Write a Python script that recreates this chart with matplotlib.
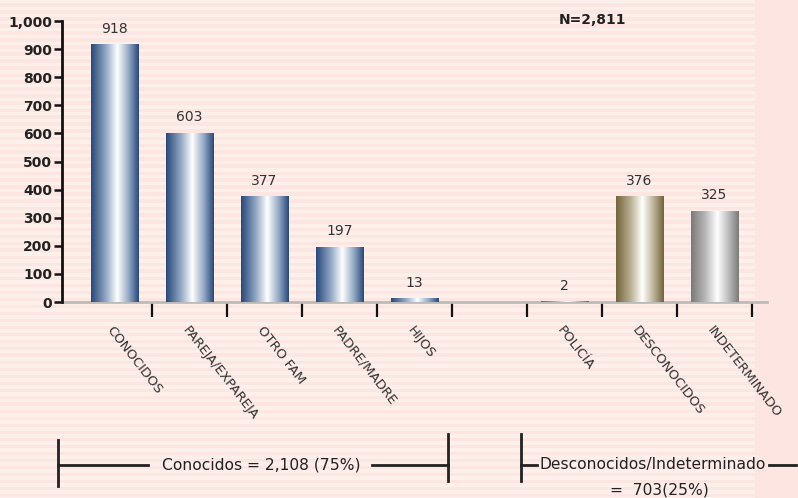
import matplotlib.pyplot as plt
import matplotlib.patches as mpatches
from matplotlib.colors import LinearSegmentedColormap
from matplotlib.ticker import FuncFormatter
import numpy as np

# datos
categorias = ['CONOCIDOS', 'PAREJA/EXPAREJA', 'OTRO FAM', 'PADRE/MADRE', 'HIJOS',
              '', 'POLICÍA', 'DESCONOCIDOS', 'INDETERMINADO']
valores = [918, 603, 377, 197, 13, 0, 2, 376, 325]
grupo = ['azul', 'azul', 'azul', 'azul', 'azul', 'azul', 'oliva', 'oliva', 'gris']
total_txt = 'N=2,811'
conocidos_txt = 'Conocidos = 2,108 (75%)'
descon_txt = 'Desconocidos/Indeterminado'
descon_txt2 = '=  703(25%)'

W, H = 798, 498
fig = plt.figure(figsize=(W / 100, H / 100), dpi=100)
fig.patch.set_facecolor('#fde6e1')

fnt = ['Liberation Sans Narrow', 'DejaVu Sans']

def px(x, y):
    return x / W, 1 - y / H

# fondo rayado
for yy in range(0, H, 7):
    fig.patches.append(mpatches.Rectangle(px(0, yy + 3.5), 755 / W, 3.5 / H,
                                          transform=fig.transFigure,
                                          facecolor='#fdefea', edgecolor='none', zorder=-10))

ax = fig.add_axes([62 / W, (H - 302) / H, (767 - 62) / W, (302 - 21) / H])
ax.set_facecolor('none')

cmaps = {
    'azul': LinearSegmentedColormap.from_list('azul', [(0, '#284878'), (0.3, '#8ea4c2'), (0.55, '#ffffff'), (0.8, '#8ea4c2'), (1, '#284878')]),
    'oliva': LinearSegmentedColormap.from_list('oliva', [(0, '#74643c'), (0.3, '#b7ad90'), (0.55, '#ffffff'), (0.8, '#b7ad90'), (1, '#74643c')]),
    'gris': LinearSegmentedColormap.from_list('gris', [(0, '#7a7a7a'), (0.3, '#b8b8b8'), (0.55, '#ffffff'), (0.8, '#b8b8b8'), (1, '#7a7a7a')]),
}

x = np.arange(len(categorias))
barras = ax.bar(x, valores, width=0.64, facecolor='none', edgecolor='none', zorder=3)
grad = np.linspace(0, 1, 256).reshape(1, -1)
for b, v, g in zip(barras, valores, grupo):
    if v <= 0:
        continue
    x0, w = b.get_x(), b.get_width()
    im = ax.imshow(grad, cmap=cmaps[g], extent=[x0, x0 + w, 0, v], aspect='auto', zorder=3)
    im.set_clip_path(b)
    ax.annotate(f'{v}', (x0 + w / 2, v), xytext=(0, 6), textcoords='offset points',
                ha='center', va='bottom', fontsize=10, color='#333333', family=fnt)

ax.set_xlim(-0.7, 8.7)
ax.set_ylim(0, 1000)

for s in ['top', 'right']:
    ax.spines[s].set_visible(False)
ax.spines['left'].set_linewidth(2)
ax.spines['left'].set_color('#111111')
ax.spines['bottom'].set_linewidth(2)
ax.spines['bottom'].set_color('#bbbbbb')
ax.spines['bottom'].set_zorder(2)

ax.set_yticks(np.arange(0, 1001, 100))
ax.yaxis.set_major_formatter(FuncFormatter(lambda v, p: f'{int(v):,}'))
ax.tick_params(axis='y', length=6, width=1.8, color='#111111', pad=1, labelsize=10, labelcolor='#222222')
for t in ax.get_yticklabels():
    t.set_fontweight('bold')

ax.set_xticks(x)
ax.set_xticklabels(categorias, rotation=-52, ha='left', va='top', rotation_mode='anchor',
                   fontsize=9.5, color='#333333', family=fnt)
ax.tick_params(axis='x', which='major', length=0, pad=16)
ax.set_xticks(x + 0.5, minor=True)
ax.tick_params(axis='x', which='minor', length=11, width=1.6, color='#111111')

fig.text(*px(593, 20), total_txt, ha='center', va='center', fontsize=10,
         fontweight='bold', color='#222222', family=fnt)

# llaves inferiores
def linea(x1, y1, x2, y2):
    fig.add_artist(plt.Line2D([x1 / W, x2 / W], [1 - y1 / H, 1 - y2 / H],
                              transform=fig.transFigure, color='#222222', lw=2))

linea(58, 440, 58, 486)
linea(58, 465, 148, 465)
linea(372, 465, 448, 465)
linea(448, 434, 448, 481)
fig.text(*px(261, 465), conocidos_txt, ha='center', va='center', fontsize=11.2, color='#222222', family=fnt)

linea(521, 434, 521, 481)
linea(521, 465, 537, 465)
linea(769, 465, 796, 465)
fig.text(*px(653, 465), descon_txt, ha='center', va='center', fontsize=11.2, color='#222222', family=fnt)
fig.text(*px(659, 490), descon_txt2, ha='center', va='center', fontsize=11.2, color='#222222', family=fnt)

fig.savefig('out.png', dpi=100, facecolor=fig.get_facecolor())
